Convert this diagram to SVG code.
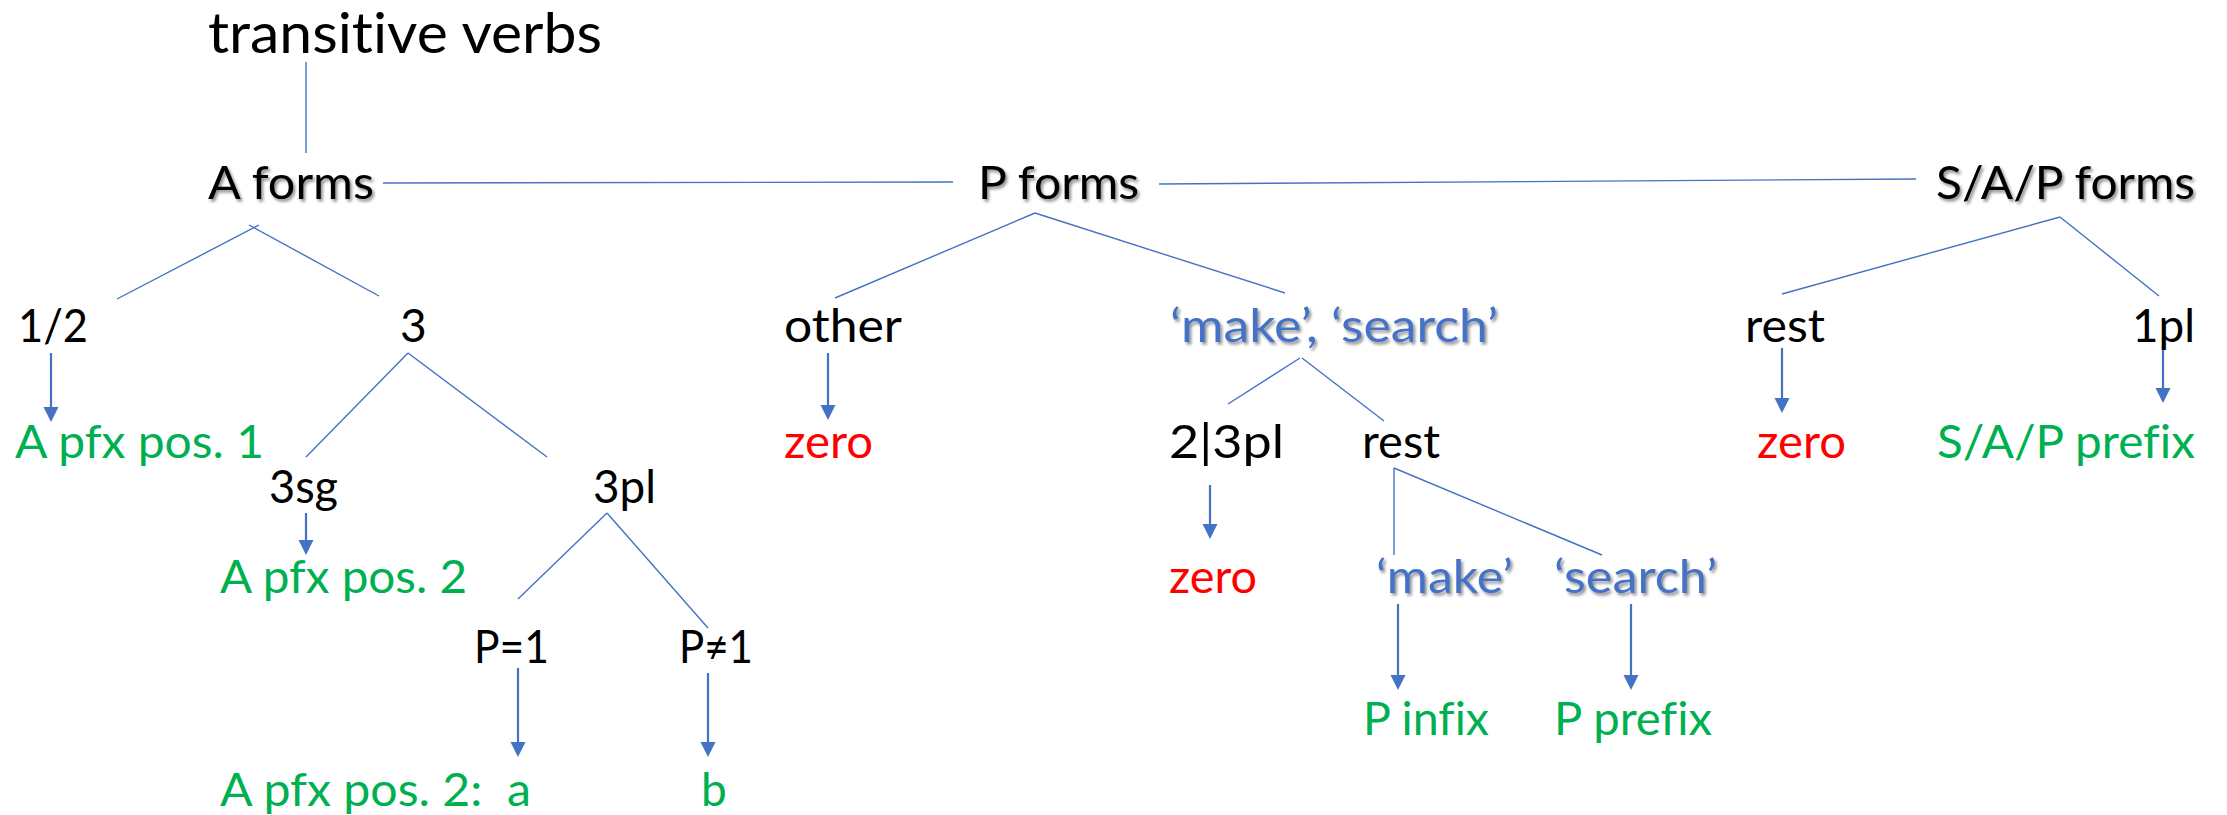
<svg xmlns="http://www.w3.org/2000/svg" width="2227" height="815" viewBox="0 0 2227 815">
<style>
text{font-family:Lato,"Open Sans","DejaVu Sans",sans-serif;font-size:46px;white-space:pre;font-variant-ligatures:none;font-feature-settings:"liga" 0,"clig" 0}
.k{fill:#000}
.g{fill:#00B050}
.r{fill:#FF0000}
.b{fill:#4472C4}
.sh{filter:url(#shadow)}
.tree{stroke:#4472C4;stroke-width:1.4;fill:none}
.arr{stroke:#4472C4;stroke-width:2.2;fill:none;marker-end:url(#ah)}
</style>
<defs>
<filter id="shadow" x="-10%" y="-20%" width="130%" height="150%">
<feDropShadow dx="2" dy="2.5" stdDeviation="1.6" flood-color="#000" flood-opacity="0.45"/>
</filter>
<marker id="ah" markerUnits="userSpaceOnUse" markerWidth="16" markerHeight="16" viewBox="0 0 16 16" refX="7" refY="8" orient="auto">
<path d="M0,0.5 L15,8 L0,15.5 z" fill="#4472C4"/>
</marker>
</defs>
<rect width="2227" height="815" fill="#fff"/>

<g id="connectors">
<line class="tree" x1="306" y1="62" x2="306" y2="153"/>
<line class="tree" x1="383" y1="183" x2="953" y2="182"/>
<line class="tree" x1="1159" y1="184" x2="1916" y2="179"/>
<line class="tree" x1="117" y1="299" x2="259" y2="225"/>
<line class="tree" x1="249" y1="225" x2="379" y2="296"/>
<line class="tree" x1="408" y1="353" x2="306" y2="457"/>
<line class="tree" x1="408" y1="353" x2="547" y2="457"/>
<line class="tree" x1="607" y1="513" x2="518" y2="599"/>
<line class="tree" x1="607" y1="513" x2="708" y2="628"/>
<line class="tree" x1="1035" y1="213" x2="835" y2="298"/>
<line class="tree" x1="1035" y1="213" x2="1285" y2="293"/>
<line class="tree" x1="1300" y1="358" x2="1228" y2="404"/>
<line class="tree" x1="1302" y1="358" x2="1384" y2="421"/>
<line class="tree" x1="1394" y1="468" x2="1394" y2="555"/>
<line class="tree" x1="1394" y1="468" x2="1602" y2="555"/>
<line class="tree" x1="2060" y1="217" x2="1782" y2="294"/>
<line class="tree" x1="2060" y1="217" x2="2159" y2="296"/>
<line class="arr" x1="51" y1="353" x2="51" y2="414"/>
<line class="arr" x1="306" y1="513" x2="306" y2="547"/>
<line class="arr" x1="518" y1="668" x2="518" y2="749"/>
<line class="arr" x1="708" y1="673" x2="708" y2="749"/>
<line class="arr" x1="828" y1="353" x2="828" y2="412"/>
<line class="arr" x1="1210" y1="485" x2="1210" y2="531"/>
<line class="arr" x1="1398" y1="604" x2="1398" y2="682"/>
<line class="arr" x1="1631" y1="604" x2="1631" y2="682"/>
<line class="arr" x1="1782" y1="348" x2="1782" y2="405"/>
<line class="arr" x1="2163" y1="337" x2="2163" y2="395"/>
</g>

<g id="n-transitive"><text class="k" x="208" y="53" style="font-size:56px" textLength="394" lengthAdjust="spacingAndGlyphs">transitive verbs</text></g>
<g id="n-aforms"><text class="k sh" x="208" y="199" textLength="166" lengthAdjust="spacingAndGlyphs">A forms</text></g>
<g id="n-pforms"><text class="k sh" x="978" y="199" textLength="161" lengthAdjust="spacingAndGlyphs">P forms</text></g>
<g id="n-sapforms"><text class="k sh" x="1936" y="199" textLength="259" lengthAdjust="spacingAndGlyphs">S/A/P forms</text></g>

<g id="n-12"><text class="k" x="18" y="342" textLength="70" lengthAdjust="spacingAndGlyphs">1/2</text></g>
<g id="n-3"><text class="k" x="400" y="342">3</text></g>
<g id="n-other"><text class="k" x="784" y="342" textLength="118" lengthAdjust="spacingAndGlyphs">other</text></g>
<g id="n-makesearch"><text class="b sh" x="1170" y="342" textLength="328" lengthAdjust="spacingAndGlyphs">‘make’, ‘search’</text></g>
<g id="n-rest-sap"><text class="k" x="1745" y="342" textLength="80" lengthAdjust="spacingAndGlyphs">rest</text></g>
<g id="n-1pl"><text class="k" x="2132" y="342" textLength="63" lengthAdjust="spacingAndGlyphs">1pl</text></g>

<g id="n-apfx1"><text class="g" x="15" y="458" textLength="249" lengthAdjust="spacingAndGlyphs">A pfx pos. 1</text></g>
<g id="n-zero-other"><text class="r" x="784" y="458" textLength="89" lengthAdjust="spacingAndGlyphs">zero</text></g>
<g id="n-23pl"><text class="k" x="1169" y="458" textLength="115" lengthAdjust="spacingAndGlyphs">2|3pl</text></g>
<g id="n-rest-p"><text class="k" x="1362" y="458" textLength="78" lengthAdjust="spacingAndGlyphs">rest</text></g>
<g id="n-zero-sap"><text class="r" x="1757" y="458" textLength="89" lengthAdjust="spacingAndGlyphs">zero</text></g>
<g id="n-sapprefix"><text class="g" x="1937" y="458" textLength="258" lengthAdjust="spacingAndGlyphs">S/A/P prefix</text></g>

<g id="n-3sg"><text class="k" x="269" y="503" textLength="69" lengthAdjust="spacingAndGlyphs">3sg</text></g>
<g id="n-3pl"><text class="k" x="593" y="503" textLength="63" lengthAdjust="spacingAndGlyphs">3pl</text></g>
<g id="n-apfx2"><text class="g" x="220" y="593" textLength="247" lengthAdjust="spacingAndGlyphs">A pfx pos. 2</text></g>
<g id="n-zero-23pl"><text class="r" x="1169" y="593" textLength="88" lengthAdjust="spacingAndGlyphs">zero</text></g>
<g id="n-make"><text class="b sh" x="1376" y="593" textLength="137" lengthAdjust="spacingAndGlyphs">‘make’</text></g>
<g id="n-search"><text class="b sh" x="1554" y="593" textLength="163" lengthAdjust="spacingAndGlyphs">‘search’</text></g>

<g id="n-p1"><text class="k" x="474" y="663" textLength="75" lengthAdjust="spacingAndGlyphs">P=1</text></g>
<g id="n-pn1"><text class="k" x="679" y="663" textLength="74" lengthAdjust="spacingAndGlyphs">P≠1</text></g>
<g id="n-pinfix"><text class="g" x="1363" y="735" textLength="126" lengthAdjust="spacingAndGlyphs">P infix</text></g>
<g id="n-pprefix"><text class="g" x="1554" y="735" textLength="158" lengthAdjust="spacingAndGlyphs">P prefix</text></g>

<g id="n-apfx2a"><text class="g" x="220" y="806" textLength="311" lengthAdjust="spacingAndGlyphs">A pfx pos. 2:  a</text></g>
<g id="n-b"><text class="g" x="701" y="806">b</text></g>
</svg>
